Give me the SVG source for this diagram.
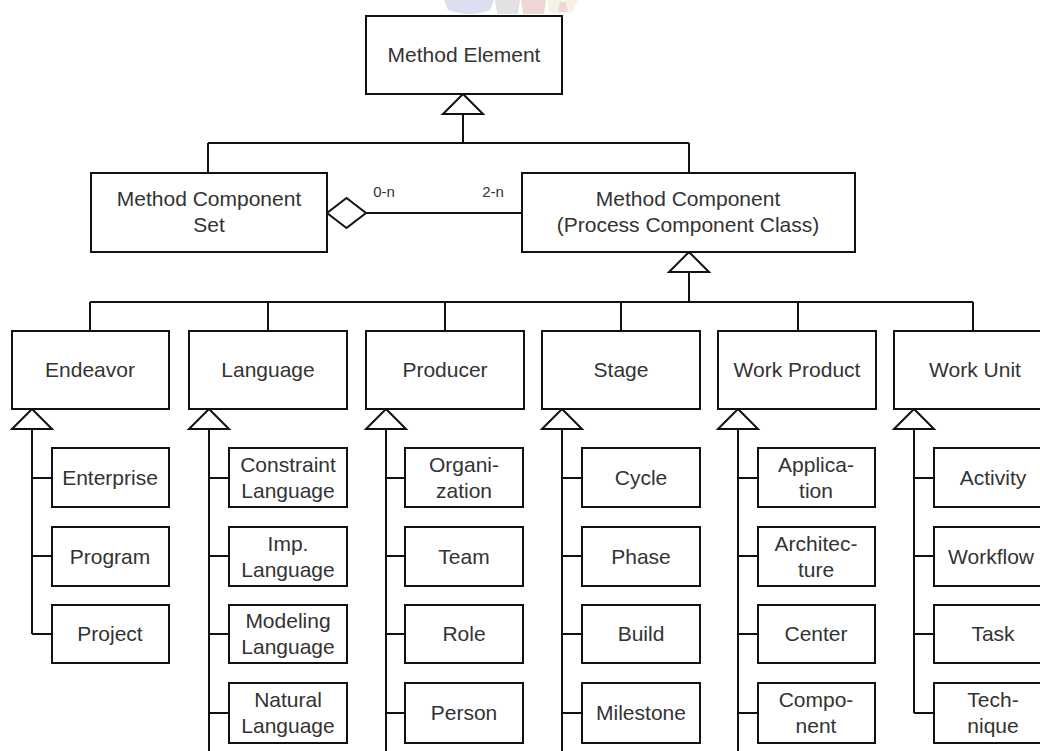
<svg xmlns="http://www.w3.org/2000/svg" width="1040" height="751" viewBox="0 0 1040 751">
  <style>
    .box { fill: #ffffff; stroke: #111111; stroke-width: 2; }
    .ln { fill: none; stroke: #111111; stroke-width: 2; }
    .tri { fill: #ffffff; stroke: #111111; stroke-width: 2; stroke-linejoin: miter; }
    .t { font-family: "Liberation Sans", Arial, sans-serif; font-size: 21px; fill: #333333; text-anchor: middle; }
    .m { font-family: "Liberation Sans", Arial, sans-serif; font-size: 15px; fill: #333333; text-anchor: middle; }
  </style>
  <rect width="1040" height="751" fill="#ffffff"/>

  <!-- faint crest in the page header -->
  <g id="crest" opacity="0.22">
    <path d="M444 0 H494 L490 10 Q470 18 448 10 Z" fill="#6a6fb8"/>
    <path d="M495 0 H520 L518 14 H497 Z" fill="#808080"/>
    <path d="M521 0 H546 L544 14 H523 Z" fill="#c04848"/>
    <path d="M547 0 H578 L572 12 Q560 16 549 12 Z" fill="#d8c8a0"/>
    <path d="M560 2 L566 2 L568 12 L558 12 Z" fill="#c04848"/>
  </g>

  <!-- connectors -->
  <g id="connectors">
    <!-- Method Element generalisation -->
    <path class="ln" d="M463 114 V143 M208 143 H689 M208 143 V173 M689 143 V173"/>
    <polygon class="tri" points="463,94 443,114 483,114"/>
    <!-- aggregation between set and component -->
    <path class="ln" d="M366 213 H522"/>
    <polygon class="tri" points="327,213 346.5,198 366,213 346.5,228"/>
    <!-- Method Component generalisation -->
    <path class="ln" d="M689 272 V302 M90 302 H973"/>
    <path class="ln" d="M90 302 V331 M268 302 V331 M445 302 V331 M621 302 V331 M798 302 V331 M973 302 V331"/>
    <polygon class="tri" points="689,252 669,272 709,272"/>

    <!-- Endeavor -->
    <path class="ln" d="M32 429 V634 M32 478 H52 M32 556 H52 M32 634 H52"/>
    <polygon class="tri" points="32,409 12,429 52,429"/>
    <!-- Language -->
    <path class="ln" d="M209 429 V751 M209 478 H229 M209 556 H229 M209 634 H229 M209 713 H229"/>
    <polygon class="tri" points="209,409 189,429 229,429"/>
    <!-- Producer -->
    <path class="ln" d="M386 429 V751 M386 478 H405 M386 556 H405 M386 634 H405 M386 713 H405"/>
    <polygon class="tri" points="386,409 366,429 406,429"/>
    <!-- Stage -->
    <path class="ln" d="M562 429 V751 M562 478 H582 M562 556 H582 M562 634 H582 M562 713 H582"/>
    <polygon class="tri" points="562,409 542,429 582,429"/>
    <!-- Work Product -->
    <path class="ln" d="M738 429 V751 M738 478 H758 M738 556 H758 M738 634 H758 M738 713 H758"/>
    <polygon class="tri" points="738,409 718,429 758,429"/>
    <!-- Work Unit -->
    <path class="ln" d="M914 429 V713 M914 478 H934 M914 556 H934 M914 634 H934 M914 713 H934"/>
    <polygon class="tri" points="914,409 894,429 934,429"/>

    <text class="m" x="384" y="197">0-n</text>
    <text class="m" x="493" y="197">2-n</text>
  </g>

  <!-- top level -->
  <g id="method-element">
    <rect class="box" x="366" y="16" width="196" height="78"/>
    <text class="t" x="464" y="62">Method Element</text>
  </g>
  <g id="method-component-set">
    <rect class="box" x="91" y="173" width="236" height="79"/>
    <text class="t" x="209" y="206">Method Component</text>
    <text class="t" x="209" y="232">Set</text>
  </g>
  <g id="method-component">
    <rect class="box" x="522" y="173" width="333" height="79"/>
    <text class="t" x="688" y="206">Method Component</text>
    <text class="t" x="688" y="232">(Process Component Class)</text>
  </g>

  <!-- second level -->
  <g id="endeavor">
    <rect class="box" x="12" y="331" width="157" height="78"/>
    <text class="t" x="90" y="377">Endeavor</text>
  </g>
  <g id="language">
    <rect class="box" x="189" y="331" width="158" height="78"/>
    <text class="t" x="268" y="377">Language</text>
  </g>
  <g id="producer">
    <rect class="box" x="366" y="331" width="158" height="78"/>
    <text class="t" x="445" y="377">Producer</text>
  </g>
  <g id="stage">
    <rect class="box" x="542" y="331" width="158" height="78"/>
    <text class="t" x="621" y="377">Stage</text>
  </g>
  <g id="work-product">
    <rect class="box" x="718" y="331" width="158" height="78"/>
    <text class="t" x="797" y="377">Work Product</text>
  </g>
  <g id="work-unit">
    <rect class="box" x="894" y="331" width="158" height="78"/>
    <text class="t" x="975" y="377">Work Unit</text>
  </g>

  <!-- Endeavor kinds -->
  <g id="enterprise"><rect class="box" x="52" y="448" width="117" height="59"/><text class="t" x="110" y="485">Enterprise</text></g>
  <g id="program"><rect class="box" x="52" y="527" width="117" height="59"/><text class="t" x="110" y="564">Program</text></g>
  <g id="project"><rect class="box" x="52" y="605" width="117" height="58"/><text class="t" x="110" y="641">Project</text></g>

  <!-- Language kinds -->
  <g id="constraint-language"><rect class="box" x="229" y="448" width="118" height="59"/><text class="t" x="288" y="472">Constraint</text><text class="t" x="288" y="498">Language</text></g>
  <g id="imp-language"><rect class="box" x="229" y="527" width="118" height="59"/><text class="t" x="288" y="551">Imp.</text><text class="t" x="288" y="577">Language</text></g>
  <g id="modeling-language"><rect class="box" x="229" y="605" width="118" height="58"/><text class="t" x="288" y="628">Modeling</text><text class="t" x="288" y="654">Language</text></g>
  <g id="natural-language"><rect class="box" x="229" y="683" width="118" height="60"/><text class="t" x="288" y="707">Natural</text><text class="t" x="288" y="733">Language</text></g>

  <!-- Producer kinds -->
  <g id="organization"><rect class="box" x="405" y="448" width="118" height="59"/><text class="t" x="464" y="472">Organi-</text><text class="t" x="464" y="498">zation</text></g>
  <g id="team"><rect class="box" x="405" y="527" width="118" height="59"/><text class="t" x="464" y="564">Team</text></g>
  <g id="role"><rect class="box" x="405" y="605" width="118" height="58"/><text class="t" x="464" y="641">Role</text></g>
  <g id="person"><rect class="box" x="405" y="683" width="118" height="60"/><text class="t" x="464" y="720">Person</text></g>

  <!-- Stage kinds -->
  <g id="cycle"><rect class="box" x="582" y="448" width="118" height="59"/><text class="t" x="641" y="485">Cycle</text></g>
  <g id="phase"><rect class="box" x="582" y="527" width="118" height="59"/><text class="t" x="641" y="564">Phase</text></g>
  <g id="build"><rect class="box" x="582" y="605" width="118" height="58"/><text class="t" x="641" y="641">Build</text></g>
  <g id="milestone"><rect class="box" x="582" y="683" width="118" height="60"/><text class="t" x="641" y="720">Milestone</text></g>

  <!-- Work Product kinds -->
  <g id="application"><rect class="box" x="758" y="448" width="117" height="59"/><text class="t" x="816" y="472">Applica-</text><text class="t" x="816" y="498">tion</text></g>
  <g id="architecture"><rect class="box" x="758" y="527" width="117" height="59"/><text class="t" x="816" y="551">Architec-</text><text class="t" x="816" y="577">ture</text></g>
  <g id="center"><rect class="box" x="758" y="605" width="117" height="58"/><text class="t" x="816" y="641">Center</text></g>
  <g id="component"><rect class="box" x="758" y="683" width="117" height="60"/><text class="t" x="816" y="707">Compo-</text><text class="t" x="816" y="733">nent</text></g>

  <!-- Work Unit kinds -->
  <g id="activity"><rect class="box" x="934" y="448" width="118" height="59"/><text class="t" x="993" y="485">Activity</text></g>
  <g id="workflow"><rect class="box" x="934" y="527" width="118" height="59"/><text class="t" x="991" y="564">Workflow</text></g>
  <g id="task"><rect class="box" x="934" y="605" width="118" height="58"/><text class="t" x="993" y="641">Task</text></g>
  <g id="technique"><rect class="box" x="934" y="683" width="118" height="60"/><text class="t" x="993" y="707">Tech-</text><text class="t" x="993" y="733">nique</text></g>
</svg>
